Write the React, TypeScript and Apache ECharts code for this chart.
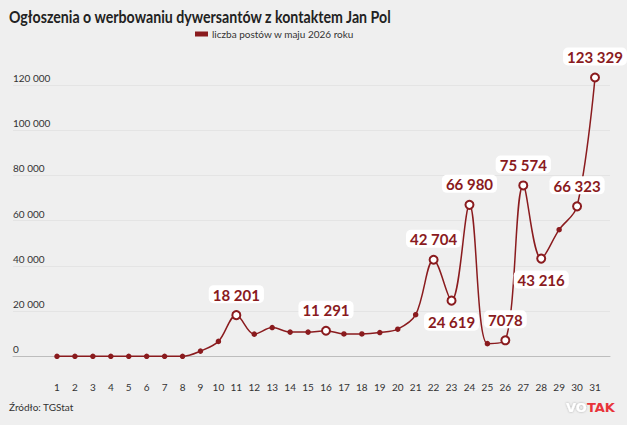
import React, { useEffect, useRef } from "react";
import * as echarts from "echarts";

// Daily number of posts, May 2026
const days = [
  "1", "2", "3", "4", "5", "6", "7", "8", "9", "10",
  "11", "12", "13", "14", "15", "16", "17", "18", "19", "20",
  "21", "22", "23", "24", "25", "26", "27", "28", "29", "30", "31",
];
const posts = [
  0, 0, 0, 0, 0, 0, 0, 0, 2300, 6600,
  18201, 9800, 12700, 10700, 10700, 11291, 9900, 9900, 10500, 12000,
  18400, 42704, 24619, 66980, 5600, 7078, 75574, 43216, 56000, 66323, 123329,
];
// Days whose value is written next to the point
const labelledDays = ["11", "16", "22", "23", "24", "26", "27", "28", "30", "31"];
// Of those, days whose label sits under the point
const labelBelowDays = ["23", "28"];
const yTicks = [0, 20000, 40000, 60000, 80000, 100000, 120000];

const RED = "#8a1b1e";
const FONT = "Lato, 'Noto Sans', sans-serif";

// Polish grouping: space only from five digits up
function fmt(v: number): string {
  const s = String(Math.round(v));
  if (s.length < 5) return s;
  return s.replace(/\B(?=(\d{3})+(?!\d))/g, " ");
}
function fmtAxis(v: number): string {
  return String(Math.round(v)).replace(/\B(?=(\d{3})+(?!\d))/g, " ");
}

export default function App() {
  const ref = useRef<HTMLDivElement>(null);

  useEffect(() => {
    if (!ref.current) return;
    const chart = echarts.init(ref.current, null, { renderer: "svg" });

    const seriesData = posts.map((v, i) => {
      const day = days[i];
      if (!labelledDays.includes(day)) {
        return { value: v, symbol: "circle", symbolSize: 4 };
      }
      return {
        value: v,
        symbol: "emptyCircle",
        symbolSize: 8,
        label: {
          show: true,
          position: labelBelowDays.includes(day) ? "bottom" : "top",
          distance: 7,
        },
      };
    });

    const top = 85;
    const bottom = 68.7;

    chart.setOption({
      animation: false,
      backgroundColor: "#efefef",
      legend: {
        left: 195,
        top: 29,
        padding: 0,
        icon: "rect",
        itemWidth: 11,
        itemHeight: 3,
        itemGap: 4,
        textStyle: { fontFamily: FONT, fontSize: 10, color: "#333" },
        selectedMode: false,
      },
      grid: [
        { left: 13, right: 17, top, bottom, containLabel: false },
        { left: 57, right: 32, top, bottom, containLabel: false },
      ],
      xAxis: [
        {
          type: "value",
          gridIndex: 0,
          min: 0,
          max: 1,
          axisLine: { show: true, onZero: false, lineStyle: { color: "#bdbdbd", width: 1 } },
          axisTick: { show: false },
          axisLabel: { show: false },
          splitLine: { show: false },
        },
        {
          type: "category",
          gridIndex: 1,
          data: days,
          boundaryGap: false,
          axisLine: { show: false },
          axisTick: { show: false },
          splitLine: { show: false },
          axisLabel: {
            interval: 0,
            margin: 26,
            fontFamily: FONT,
            fontSize: 10,
            color: "#333",
          },
        },
      ],
      yAxis: [
        {
          type: "value",
          gridIndex: 0,
          min: 0,
          max: 120000,
          interval: 20000,
          axisLine: { show: false },
          axisTick: { show: false },
          splitLine: { show: true, lineStyle: { color: "#e4e4e4", width: 1 } },
          axisLabel: {
            inside: true,
            margin: 0,
            verticalAlign: "bottom",
            padding: [0, 0, 2, 0],
            fontFamily: FONT,
            fontSize: 10,
            color: "#333",
            formatter: (v: number) => (yTicks.includes(v) ? fmtAxis(v) : ""),
          },
        },
        {
          type: "value",
          gridIndex: 1,
          min: 0,
          max: 120000,
          interval: 20000,
          show: false,
          splitLine: { show: false },
        },
      ],
      graphic: [
        {
          type: "text",
          x: 9,
          y: 8,
          scaleX: 0.835,
          style: {
            text: "Ogłoszenia o werbowaniu dywersantów z kontaktem Jan Pol",
            fontFamily: FONT,
            fontSize: 17,
            fontWeight: "bold",
            fill: "#222",
            verticalAlign: "top",
          },
        },
        {
          type: "text",
          x: 9,
          y: 402,
          style: {
            text: "Źródło: TGStat",
            fontFamily: FONT,
            fontSize: 10,
            fill: "#333",
            verticalAlign: "top",
          },
        },
        {
          type: "text",
          x: 566,
          y: 401,
          style: {
            text: "{vo|VO}{tak|TAK}",
            verticalAlign: "top",
            rich: {
              vo: {
                fontFamily: "'DejaVu Sans', sans-serif",
                fontSize: 13,
                fontWeight: "bold",
                fill: "#ffffff",
                textShadowColor: "rgba(0,0,0,0.3)",
                textShadowBlur: 2,
              },
              tak: {
                fontFamily: "'DejaVu Sans', sans-serif",
                fontSize: 13,
                fontWeight: "bold",
                fill: "#e8333a",
              },
            },
          },
        },
      ],
      series: [
        {
          name: "liczba postów w maju 2026 roku",
          type: "line",
          xAxisIndex: 1,
          yAxisIndex: 1,
          data: seriesData,
          smooth: 0.35,
          clip: false,
          color: RED,
          lineStyle: { color: RED, width: 1.5 },
          itemStyle: { color: RED, borderColor: RED, borderWidth: 1.5 },
          emphasis: { disabled: true },
          label: {
            fontFamily: FONT,
            fontSize: 15,
            fontWeight: "bold",
            color: RED,
            backgroundColor: "#ffffff",
            borderRadius: 5,
            padding: [2, 4, 1, 4],
            formatter: (p: any) => fmt(p.value),
          },
          labelLayout: { hideOverlap: false },
        },
      ],
    });

    return () => chart.dispose();
  }, []);

  return (
    <div
      ref={ref}
      style={{ position: "absolute", left: 0, top: 0, width: 627, height: 425 }}
    />
  );
}
